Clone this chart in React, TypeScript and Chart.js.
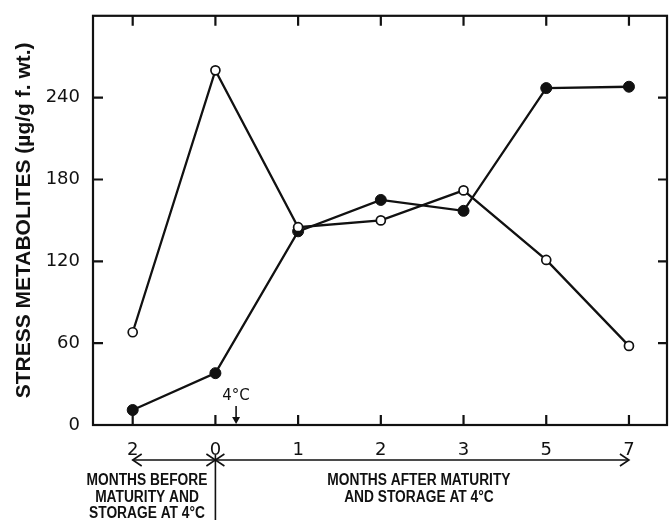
import React, { useEffect, useRef } from "react";
import { Chart, registerables } from "chart.js";
Chart.register(...registerables);

const categories = ["2", "0", "1", "2", "3", "5", "7"];
const openValues = [68, 260, 145, 150, 172, 121, 58];
const filledValues = [11, 38, 142, 165, 157, 247, 248];
const yTicks = [0, 60, 120, 180, 240];
const yTitle = "STRESS METABOLITES (\u00b5g/g f. wt.)";
const markerLabel = "4\u00b0C";
const markerPos = 1.25;
const beforeLines = ["MONTHS BEFORE", "MATURITY AND", "STORAGE AT 4\u00b0C"];
const afterLines = ["MONTHS AFTER MATURITY", "AND STORAGE AT 4\u00b0C"];

const INK = "#111111";

function arrowHead(ctx: CanvasRenderingContext2D, x: number, y: number, dir: number) {
  ctx.beginPath();
  ctx.moveTo(x - dir * 9, y - 6);
  ctx.lineTo(x, y);
  ctx.lineTo(x - dir * 9, y + 6);
  ctx.stroke();
}

function condensedText(ctx: CanvasRenderingContext2D, text: string, cx: number, cy: number, sx: number) {
  ctx.save();
  ctx.translate(cx, cy);
  ctx.scale(sx, 1);
  ctx.fillText(text, 0, 0);
  ctx.restore();
}

const framePlugin = {
  id: "frame",
  afterDraw(chart: any) {
    const { ctx, chartArea } = chart;
    const { left, right, top, bottom } = chartArea;
    const xs = chart.scales.x;
    const ys = chart.scales.y;
    ctx.save();
    ctx.strokeStyle = INK;
    ctx.fillStyle = INK;
    ctx.lineWidth = 2.2;
    ctx.strokeRect(left, top, right - left, bottom - top);
    ctx.beginPath();
    categories.forEach((_, i) => {
      const px = xs.getPixelForValue(i);
      ctx.moveTo(px, bottom);
      ctx.lineTo(px, bottom - 10);
      ctx.moveTo(px, top);
      ctx.lineTo(px, top + 10);
    });
    yTicks.forEach((v) => {
      const py = ys.getPixelForValue(v);
      ctx.moveTo(left, py);
      ctx.lineTo(left + 10, py);
      ctx.moveTo(right, py);
      ctx.lineTo(right - 9, py);
    });
    ctx.stroke();

    // 4°C marker
    const mx = xs.getPixelForValue(markerPos);
    ctx.font = "15px 'DejaVu Sans'";
    ctx.textAlign = "center";
    ctx.textBaseline = "middle";
    ctx.fillText(markerLabel, mx, bottom - 29);
    ctx.lineWidth = 1.6;
    ctx.beginPath();
    ctx.moveTo(mx, bottom - 19);
    ctx.lineTo(mx, bottom - 6);
    ctx.stroke();
    ctx.beginPath();
    ctx.moveTo(mx - 4, bottom - 8);
    ctx.lineTo(mx + 4, bottom - 8);
    ctx.lineTo(mx, bottom - 1);
    ctx.closePath();
    ctx.fill();

    // bottom arrows
    const ay = bottom + 35;
    const x0 = xs.getPixelForValue(0);
    const x1 = xs.getPixelForValue(1);
    const x6 = xs.getPixelForValue(6);
    ctx.lineWidth = 1.6;
    ctx.beginPath();
    ctx.moveTo(x0, ay);
    ctx.lineTo(x6, ay);
    ctx.moveTo(x1, bottom + 30);
    ctx.lineTo(x1, 520);
    ctx.stroke();
    arrowHead(ctx, x0, ay, -1);
    arrowHead(ctx, x1, ay, 1);
    arrowHead(ctx, x1, ay, -1);
    arrowHead(ctx, x6, ay, 1);

    ctx.font = "bold 16px 'Liberation Sans'";
    ctx.textAlign = "center";
    ctx.textBaseline = "middle";
    beforeLines.forEach((t, i) => condensedText(ctx, t, 147, bottom + 56 + i * 16.5, 0.86));
    const acx = xs.getPixelForValue(3.46);
    afterLines.forEach((t, i) => condensedText(ctx, t, acx, bottom + 56 + i * 16.5, 0.86));
    ctx.restore();
  },
};

export default function App() {
  const ref = useRef<HTMLCanvasElement | null>(null);
  useEffect(() => {
    document.body.style.margin = "0";
    document.body.style.background = "#ffffff";
    const canvas = ref.current!;
    const chart = new Chart(canvas, {
      type: "line",
      data: {
        datasets: [
          {
            label: "open",
            data: openValues.map((v, i) => ({ x: i, y: v })),
            borderColor: INK,
            borderWidth: 2.3,
            pointRadius: 4.5,
            pointBorderWidth: 1.7,
            pointBackgroundColor: "#ffffff",
            pointBorderColor: INK,
            tension: 0,
          },
          {
            label: "filled",
            data: filledValues.map((v, i) => ({ x: i, y: v })),
            borderColor: INK,
            borderWidth: 2.3,
            pointRadius: 5.5,
            pointBorderWidth: 1,
            pointBackgroundColor: INK,
            pointBorderColor: INK,
            tension: 0,
          },
        ],
      },
      options: {
        responsive: false,
        animation: false,
        layout: { autoPadding: false, padding: { top: 13, right: 2, left: 0, bottom: 0 } },
        plugins: {
          legend: { display: false },
          tooltip: { enabled: false },
        },
        scales: {
          x: {
            type: "linear",
            min: -0.48,
            max: 6.46,
            grid: { display: false },
            border: { display: false },
            afterBuildTicks: (s: any) => {
              s.ticks = categories.map((_, i) => ({ value: i }));
            },
            afterFit: (s: any) => {
              s.height = 95;
            },
            ticks: {
              autoSkip: false,
              maxRotation: 0,
              padding: 7,
              color: INK,
              font: { family: "'DejaVu Sans'", size: 18 },
              callback: (v: any) => categories[Math.round(v)] ?? "",
            },
          },
          y: {
            type: "linear",
            min: 0,
            max: 300,
            grid: { display: false },
            border: { display: false },
            afterBuildTicks: (s: any) => {
              s.ticks = yTicks.map((v) => ({ value: v }));
            },
            afterFit: (s: any) => {
              s.width = 93;
            },
            ticks: {
              padding: 5,
              color: INK,
              font: { family: "'DejaVu Sans'", size: 18 },
            },
            title: {
              display: true,
              text: yTitle,
              color: INK,
              padding: { top: 12, bottom: 0 },
              font: { family: "'Liberation Sans'", size: 21, weight: "bold" },
            },
          },
        },
      },
      plugins: [framePlugin],
    });
    return () => chart.destroy();
  }, []);
  return <canvas ref={ref} width={669} height={520} style={{ display: "block", width: 669, height: 520 }} />;
}
